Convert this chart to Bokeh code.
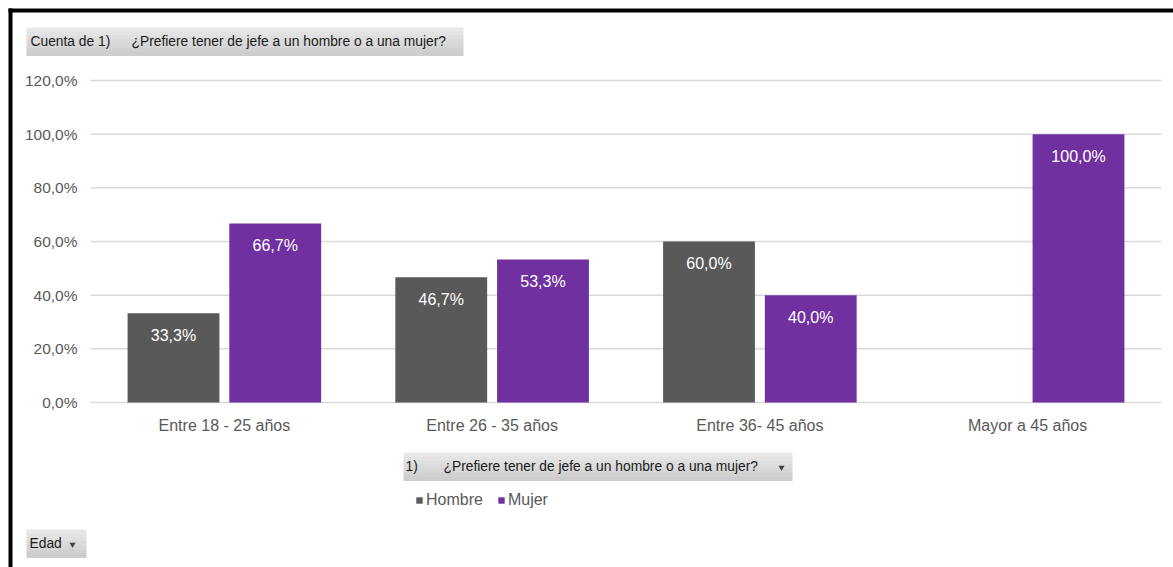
from bokeh.plotting import figure
from bokeh.models import (Range1d, ColumnDataSource, FixedTicker, LinearAxis,
                          Legend, LegendItem)
from bokeh.core.properties import value
from bokeh.embed import file_html
from bokeh.resources import INLINE

# ---- data ----
categories = ["Entre 18 - 25 años", "Entre 26 - 35 años", "Entre 36- 45 años", "Mayor a 45 años"]
hombre = [33.3, 46.7, 60.0, float("nan")]
mujer = [66.7, 53.3, 40.0, 100.0]
y_ticks = [0, 20, 40, 60, 80, 100, 120]
series_names = ["Hombre", "Mujer"]
field_name = "¿Prefiere tener de jefe a un hombre o a una mujer?"

HOMBRE_C = "#595959"
MUJER_C = "#7030a0"
TXT = "#595959"
FONT = "Liberation Sans"
BTN_FONT = "Liberation Sans"

W, H = 1173, 567
# pixel layout of the plot area (page pixels)
FX0, FX1, FY_TOP, FY_BOT = 90, 1161, 80, 402
YMAX = 120
px_per_cat = (FX1 - FX0) / len(categories)
px_per_y = (FY_BOT - FY_TOP) / YMAX

def X(px):
    return (px - FX0) / px_per_cat

def Y(py):
    return (FY_BOT - py) / px_per_y

def pct(v):
    return f"{v:.1f}".replace(".", ",") + "%"

idx = list(range(len(categories)))
centers = [i + 0.5 for i in idx]
OFF, BW = 0.19, 0.343

src_h = ColumnDataSource(dict(x=[c - OFF for c in centers], top=hombre))
src_m = ColumnDataSource(dict(x=[c + OFF for c in centers], top=mujer))

p = figure(width=W, height=H, x_range=Range1d(X(0), X(W)), y_range=Range1d(Y(H), Y(0)),
           output_backend="svg", toolbar_location=None, tools="", title=None,
           x_axis_type=None, y_axis_type=None,
           min_border=0, min_border_left=0, min_border_right=0, min_border_top=0, min_border_bottom=0)
p.outline_line_color = None
p.background_fill_color = "white"
p.border_fill_color = "white"

# ---- axes (fixed inside the full-canvas frame) ----
yticker = FixedTicker(ticks=y_ticks)
yaxis = LinearAxis(fixed_location=0, ticker=yticker)
yaxis.major_label_overrides = {t: pct(t) for t in y_ticks}
yaxis.axis_line_color = None
yaxis.major_tick_line_color = None
yaxis.minor_tick_line_color = None
yaxis.major_tick_out = 0
yaxis.major_tick_in = 0
yaxis.major_label_standoff = 13
yaxis.major_label_text_font = FONT
yaxis.major_label_text_font_size = "15.5px"
yaxis.major_label_text_color = TXT
p.add_layout(yaxis, "left")

xaxis = LinearAxis(fixed_location=0, ticker=FixedTicker(ticks=centers))
xaxis.major_label_overrides = {c: name for c, name in zip(centers, categories)}
xaxis.axis_line_color = None
xaxis.major_tick_line_color = None
xaxis.minor_tick_line_color = None
xaxis.major_tick_out = 0
xaxis.major_tick_in = 0
xaxis.major_label_standoff = 14
xaxis.major_label_text_font = FONT
xaxis.major_label_text_font_size = "16px"
xaxis.major_label_text_color = TXT
p.add_layout(xaxis, "below")

# horizontal gridlines at the y ticks, spanning the category extent
p.segment(x0=[0] * len(y_ticks), x1=[len(categories)] * len(y_ticks), y0=y_ticks, y1=y_ticks,
          line_color="#d9d9d9", line_width=1.5, level="underlay")

# ---- bars ----
r1 = p.vbar(x="x", top="top", width=BW, source=src_h, color=HOMBRE_C, line_color=None)
r2 = p.vbar(x="x", top="top", width=BW, source=src_m, color=MUJER_C, line_color=None)

# value labels
for xs, vals in ((src_h.data["x"], hombre), (src_m.data["x"], mujer)):
    keep = [(x, v) for x, v in zip(xs, vals) if v == v]
    p.text(x=[k[0] for k in keep], y=[k[1] for k in keep], text=[pct(k[1]) for k in keep],
           text_color="white", text_font=value(FONT), text_font_size="16px",
           text_align="center", text_baseline="middle", y_offset=22)

# ---- frame lines (top and left, black) ----
p.quad(left=[X(8), X(8)], right=[X(W), X(12)], top=[Y(8), Y(8)], bottom=[Y(12), Y(H)],
       color="black", line_color=None)

# ---- pivot field buttons (gradient grey) ----
def button(x0, x1, y0, y1):
    shades = ["#e8e8e8", "#e3e3e3", "#dfdfdf", "#dadada", "#d6d6d6", "#d1d1d1", "#cdcdcd"]
    n = len(shades)
    h = (y1 - y0) / n
    p.quad(left=[X(x0)] * n, right=[X(x1)] * n,
           top=[Y(y0 + i * h) for i in range(n)],
           bottom=[Y(y0 + (i + 1) * h + 0.5) for i in range(n)],
           fill_color=shades, line_color=None)

def label(x, y, texts, size="13.8px", font=BTN_FONT, color="#1a1a1a"):
    p.text(x=[X(v) for v in x], y=[Y(y)] * len(x), text=texts,
           text_font=value(font), text_font_size=size, text_color=color,
           text_baseline="middle", text_align="left")

button(26, 463, 27, 55)
label([30, 131], 41, ["Cuenta de 1)", field_name])

button(403, 792, 452, 480)
label([405, 443], 466, ["1)", field_name])
p.scatter(x=[X(781)], y=[Y(467)], marker="inverted_triangle", size=6, color="#404040", line_color=None)

button(26, 86, 529, 557)
label([29], 543, ["Edad"])
p.scatter(x=[X(72)], y=[Y(544)], marker="inverted_triangle", size=6, color="#404040", line_color=None)

# ---- legend ----
legend = Legend(items=[LegendItem(label=series_names[0], renderers=[r1]),
                       LegendItem(label=series_names[1], renderers=[r2])],
                orientation="horizontal", location=(415, H - 509),
                glyph_width=8, glyph_height=8, label_standoff=3, spacing=14,
                padding=0, margin=0, border_line_color=None, background_fill_alpha=0,
                label_text_font=FONT, label_text_font_size="16px", label_text_color=TXT,
                label_height=16)
p.add_layout(legend, "center")

open("out.html", "w").write(file_html(p, INLINE))
